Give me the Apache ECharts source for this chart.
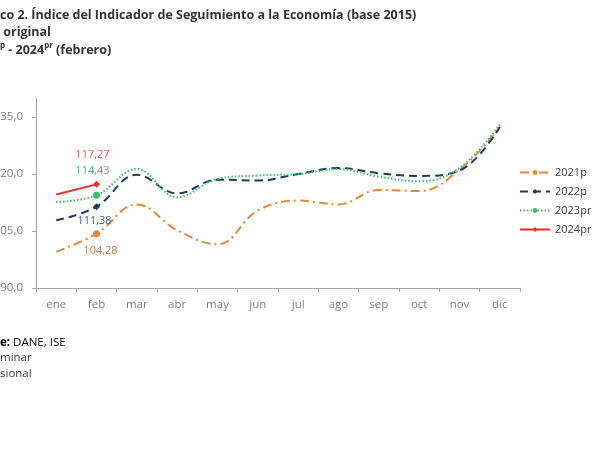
<!DOCTYPE html>
<html>
<head>
<meta charset="utf-8">
<script src="https://cdn.jsdelivr.net/npm/echarts@6/dist/echarts.min.js"></script>
<style>html,body{margin:0;padding:0;background:#fff;}#c{width:600px;height:450px;}</style>
</head>
<body>
<div id="c"></div>
<script>
const months = ['ene','feb','mar','abr','may','jun','jul','ago','sep','oct','nov','dic'];
const s2021 = [99.5, 104.28, 112.0, 105.2, 101.5, 110.4, 113.0, 112.0, 115.8, 115.5, 121.1, 132.2];
const s2022 = [107.8, 111.38, 119.8, 114.9, 118.5, 118.3, 120.0, 121.6, 120.2, 119.5, 120.9, 132.4];
const s2023 = [112.6, 114.43, 121.3, 113.9, 118.7, 119.6, 120.0, 121.3, 119.3, 118.1, 121.6, 133.0];
const s2024 = [114.6, 117.27];
const yTicks = [90, 105, 120, 135];
const seriesNames = ['2021p', '2022p', '2023pr', '2024pr'];

const FONT = '"Open Sans", "Noto Sans", sans-serif';
const cv = document.createElement('canvas').getContext('2d');
function tw(t, weight, size) { cv.font = weight + ' ' + size + 'px ' + FONT; return cv.measureText(t).width; }

const fmt = v => v.toFixed(2).replace('.', ',');

function mk(name, vals, color, dash, symbol, labelCfg) {
  return {
    name: name, type: 'line', smooth: 0.4,
    symbol: symbol, symbolSize: 0, showSymbol: true,
    itemStyle: { color: color },
    lineStyle: { color: color, width: 2, type: dash },
    emphasis: { disabled: true },
    z: labelCfg.z,
    data: vals.map((v, i) => i === 1 ? {
      value: v, symbolSize: 7,
      label: Object.assign({ show: true, formatter: p => fmt(p.value), fontFamily: FONT, fontSize: 11 }, labelCfg.label)
    } : { value: v })
  };
}

const chart = echarts.init(document.getElementById('c'));
const T = 12.5;
chart.setOption({
  animation: false,
  grid: { left: 36, right: 80, top: 98, bottom: 162, containLabel: false, outerBoundsMode: 'none' },
  legend: {
    orient: 'vertical', left: 514, top: 162, itemWidth: 30, itemHeight: 6, itemGap: 8,
    data: seriesNames,
    textStyle: { fontFamily: FONT, fontSize: 11, color: '#404040' }
  },
  xAxis: {
    type: 'category', data: months, boundaryGap: true,
    axisLine: { lineStyle: { color: '#A6A6A6', width: 1 } },
    axisTick: { show: true, length: 4, lineStyle: { color: '#A6A6A6' } },
    axisLabel: { color: '#808080', fontFamily: FONT, fontSize: 11.5, margin: 11 }
  },
  yAxis: {
    type: 'value', min: 90, max: 140, interval: 15,
    axisLine: { show: true, lineStyle: { color: '#A6A6A6', width: 1 } },
    axisTick: { show: true, length: 4, customValues: yTicks, lineStyle: { color: '#A6A6A6' } },
    axisLabel: { customValues: yTicks, color: '#808080', fontFamily: FONT, fontSize: 11.5, margin: 13,
      formatter: v => v.toFixed(1).replace('.', ',') },
    splitLine: { show: false }
  },
  series: [
    mk('2021p', s2021, '#E0893F', [9, 4, 2, 4], 'circle', { z: 2, label: { position: 'bottom', distance: 8, offset: [4, 0], color: '#B8804F' } }),
    mk('2022p', s2022, '#1F3A5F', [8, 5], 'diamond', { z: 3, label: { position: 'bottom', distance: 5, offset: [-2, 0], color: '#4A5C8C' } }),
    mk('2023pr', s2023, '#3DBB6E', [1.5, 2], 'circle', { z: 4, label: { position: 'top', distance: 15, offset: [-4, 0], color: '#45B77A' } }),
    mk('2024pr', s2024, '#E8302A', 'solid', 'diamond', { z: 5, label: { position: 'top', distance: 21, offset: [-4, 0], color: '#E0605E' } })
  ],
  graphic: [
    { type: 'text', left: -tw('Gráfi', 'bold', T), top: 9, style: { text: 'Gráfico 2. Índice del Indicador de Seguimiento a la Economía (base 2015)', font: 'bold ' + T + 'px ' + FONT, fill: '#333' } },
    { type: 'text', left: -tw('Serie', 'bold', T), top: 26, style: { text: 'Serie original', font: 'bold ' + T + 'px ' + FONT, fill: '#333' } },
    { type: 'text', left: -tw('Enero 2021', 'bold', T), top: 42, style: {
        text: '{a|Enero 2021}{s|p}{a| - 2024}{s|pr}{a| (febrero)}',
        rich: {
          a: { fontFamily: FONT, fontWeight: 'bold', fontSize: T, fill: '#333', color: '#333', lineHeight: 15, verticalAlign: 'bottom' },
          s: { fontFamily: FONT, fontWeight: 'bold', fontSize: 8, fill: '#333', color: '#333', lineHeight: 15, verticalAlign: 'top' }
        } } },
    { type: 'text', left: -tw('Fuent', 'bold', 11.5), top: 337, style: {
        text: '{b|Fuente:}{n| DANE, ISE}',
        rich: {
          b: { fontFamily: FONT, fontWeight: 'bold', fontSize: 11.5, color: '#333' },
          n: { fontFamily: FONT, fontSize: 11.5, color: '#404040' }
        } } },
    { type: 'text', left: -tw('p: preli', 'normal', 11.5), top: 352, style: { text: 'p: preliminar', font: '11.5px ' + FONT, fill: '#404040' } },
    { type: 'text', left: -tw('pr: provi', 'normal', 11.5), top: 368, style: { text: 'pr: provisional', font: '11.5px ' + FONT, fill: '#404040' } }
  ]
});
</script>
</body>
</html>
